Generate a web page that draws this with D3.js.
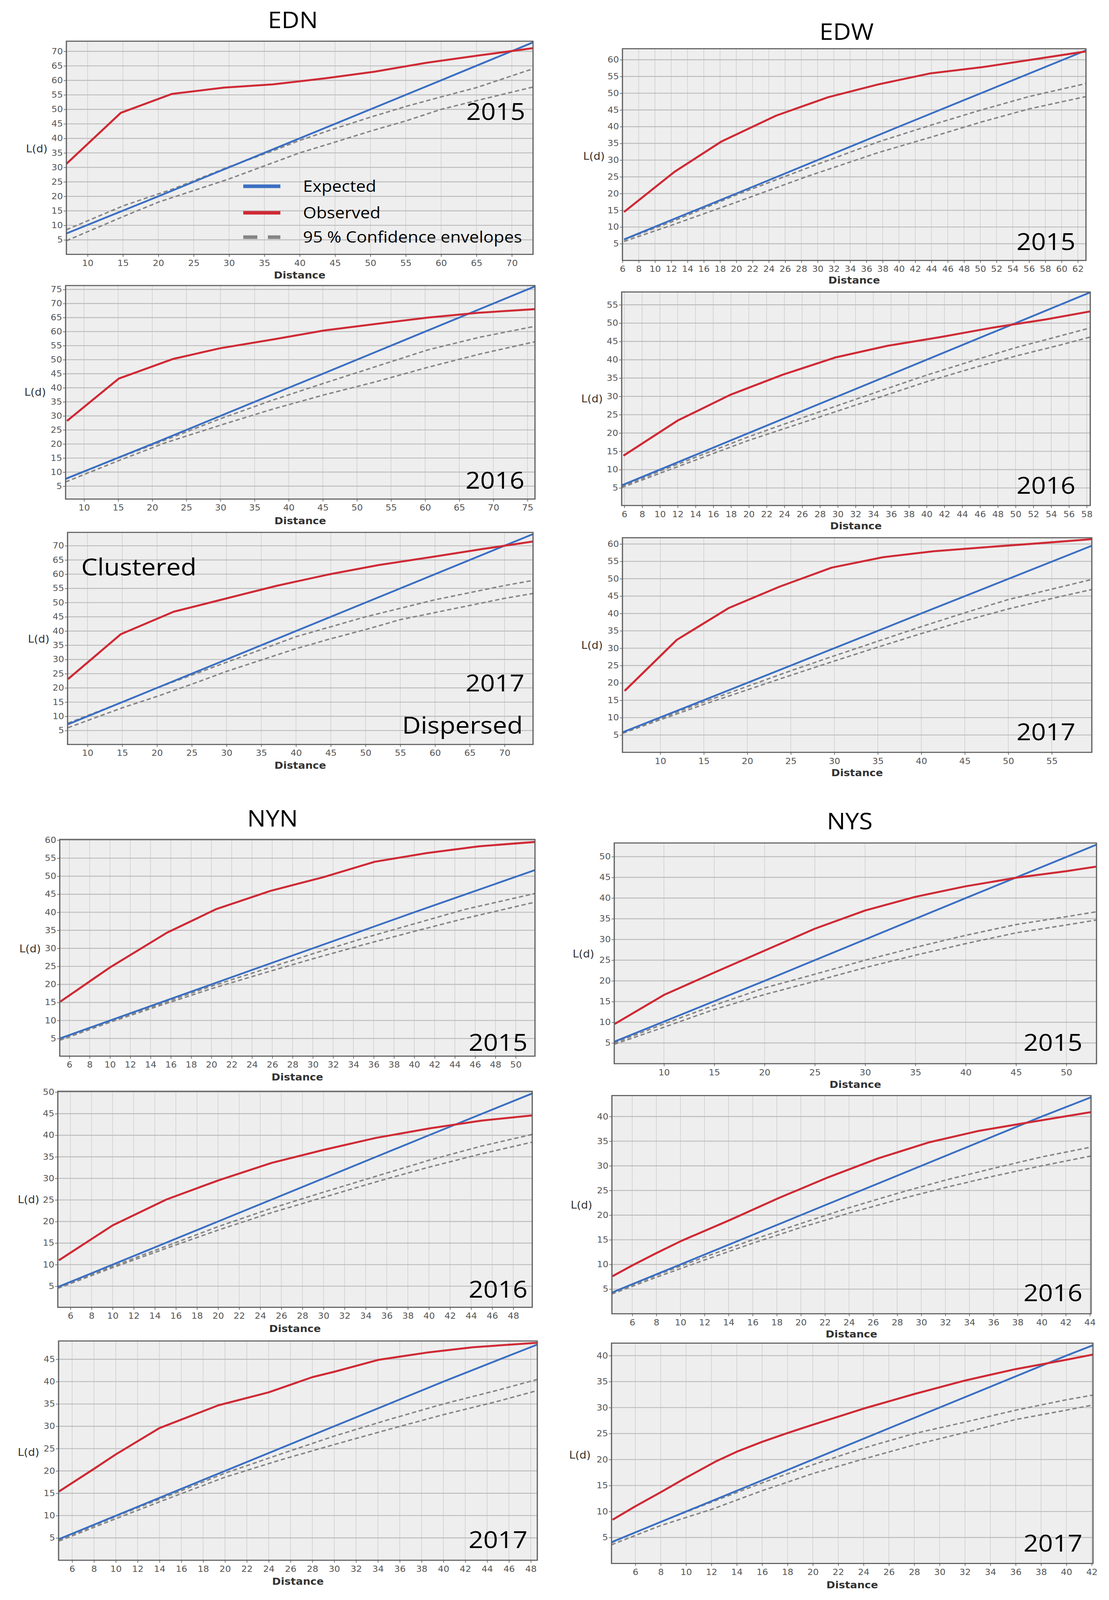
<!DOCTYPE html>
<html><head><meta charset="utf-8">
<script src="https://cdn.jsdelivr.net/npm/d3@7"></script>
<style>html,body{margin:0;padding:0;background:#fff;overflow:hidden}svg{display:block;width:100vw;height:100vh}</style>
</head><body>
<script>
// ---------- DATA ----------
const EDN2015_observed = [[7,31.2],[14.7,48.8],[21.9,55.3],[29.3,57.5],[36.2,58.6],[43.6,60.7],[50.6,63.0],[58,66.1],[65.4,68.6],[73,71.1]];
const EDN2015_expected = [[7,7.2],[20,20],[40,40],[60,60],[73,73.1]];
const EDN2015_upper = [[7,8.5],[15,16.7],[22,22.5],[30,30.2],[36,35.5],[40,39.3],[45,43.4],[50,47.3],[55,51],[60,54.3],[65,57.5],[73,64]];
const EDN2015_lower = [[7,4.7],[15,13],[20,18],[25,22],[30,26],[35,30.5],[40,35],[45,38.7],[50,42.5],[55,46],[60,50],[65,53],[73,57.7]];

const EDN2016_observed = [[7.5,28.2],[15.1,43.3],[23.1,50.3],[30,54.1],[37.7,57.2],[45.2,60.4],[52.7,62.7],[60.4,65],[67.8,66.7],[76.1,68]];
const EDN2016_expected = [[7.3,7.6],[20,20],[40,40],[60,60],[76.1,76.1]];
const EDN2016_upper = [[7.3,7.5],[15,15],[22,21.5],[30,29],[37.5,35.5],[45,41.5],[52.7,47.5],[60.4,53.5],[68,58],[76.1,61.9]];
const EDN2016_lower = [[7.3,6.5],[15.1,14.1],[22,20.5],[30,26.7],[37.5,32.3],[45.2,37.5],[52.7,42.1],[60.4,47.3],[68,52],[76.1,56.4]];

const EDN2017_observed = [[7.2,23.1],[14.8,38.9],[22.4,46.8],[29.7,51.3],[37.2,55.9],[44.5,59.8],[51.9,63.2],[59.4,66],[67,68.9],[74.1,71.5]];
const EDN2017_expected = [[7.2,7.2],[20,20],[40,40],[60,60],[74.1,74.1]];
const EDN2017_upper = [[7.2,7.6],[15,15],[20,20],[25,24.5],[30,29],[35,33.5],[40,38],[45,41.5],[50,45],[55,48],[60,51],[65,53.5],[70,56],[74.1,57.8]];
const EDN2017_lower = [[7.2,6],[15,13],[20,17],[25,21.3],[30,25.8],[35,29.8],[40,33.8],[45,37.3],[50,40.5],[55,44],[60,46.5],[65,49],[70,51.5],[74.1,53.2]];

const EDW2015_observed = [[6.2,14.5],[12.4,26.5],[18.2,35.6],[24.9,43.3],[31.3,48.8],[37.4,52.6],[43.8,55.9],[50.3,57.8],[56.8,60.2],[63,62.5]];
const EDW2015_expected = [[6.2,6.3],[20,20],[40,40],[63,62.8]];
const EDW2015_upper = [[6.2,6.2],[12,11.5],[20.1,19.7],[28.8,27.7],[37.4,35.4],[44,40.5],[50,44.9],[56,49],[63,52.9]];
const EDW2015_lower = [[6.2,5.7],[12,10.5],[20.1,17.5],[28.8,25.2],[37.4,32.2],[44,36.9],[50,41.3],[56,45.3],[63,49]];

const EDW2016_observed = [[5.9,13.8],[12,23.4],[17.9,30.4],[23.8,35.9],[29.7,40.6],[35.6,43.8],[41.6,46.2],[47.5,48.8],[53.4,51],[58.4,53.2]];
const EDW2016_expected = [[5.7,5.7],[20,20],[40,40],[58.4,58.4]];
const EDW2016_upper = [[5.7,5.4],[10,9.6],[15,14.3],[20,19],[25,23.3],[30,27.5],[35,31.7],[40,35.8],[45,39.6],[50,43.3],[55,46.5],[58.4,48.7]];
const EDW2016_lower = [[5.7,5.1],[10,9],[15,13.5],[20,18],[25,22],[30,26],[35,30],[40,34],[45,37.6],[50,41],[55,44],[58.4,46.2]];

const EDW2017_observed = [[5.9,17.7],[11.9,32.4],[17.9,41.6],[23.7,47.7],[29.7,53.2],[35.6,56.2],[41.4,57.9],[47.5,59.1],[53.5,60.2],[59.6,61.4]];
const EDW2017_expected = [[5.7,5.8],[20,20],[40,40],[59.6,59.5]];
const EDW2017_upper = [[5.7,5.8],[10,9.8],[15,14.5],[20,19],[25,23.5],[30,27.8],[35,32],[40,36.2],[45,40.2],[50,44],[55,47],[59.6,49.8]];
const EDW2017_lower = [[5.7,5.5],[10,9.4],[15,13.8],[20,18],[25,22.2],[30,26.3],[35,30.3],[40,34.2],[45,37.9],[50,41.3],[55,44.3],[59.6,46.9]];

const NYN2015_observed = [[5.1,15.2],[10,24.7],[15.6,34.3],[20.5,40.9],[25.8,45.9],[31,49.7],[36.1,54],[41.2,56.4],[46.4,58.3],[51.9,59.5]];
const NYN2015_expected = [[5.05,5],[20,20],[40,40],[51.9,51.7]];
const NYN2015_upper = [[5.05,4.8],[10,9.8],[15,14.6],[20,19.5],[25,24],[30,28.5],[35,32.8],[40,36.8],[45,40.8],[51.9,45.2]];
const NYN2015_lower = [[5.05,4.5],[10,9.5],[15,14.2],[20,18.8],[25,23],[30,27.1],[35,31],[40,34.7],[45,38.3],[51.9,42.8]];

const NYN2016_observed = [[4.9,11],[10,19.1],[15.1,25.1],[20.1,29.6],[25.1,33.6],[30,36.6],[35,39.4],[40.1,41.6],[45,43.4],[49.8,44.6]];
const NYN2016_expected = [[4.8,4.8],[20,20],[40,40],[49.8,49.7]];
const NYN2016_upper = [[4.8,4.7],[10,9.6],[15,14.2],[20,18.8],[25,23],[30,26.8],[35,30.5],[40,34.2],[45,37.5],[49.8,40.2]];
const NYN2016_lower = [[4.8,4.5],[10,9.3],[15,13.7],[20,18],[25,22],[30,25.6],[35,29.2],[40,32.6],[45,35.7],[49.8,38.4]];

const NYN2017_observed = [[4.8,15.4],[7.9,20.3],[10,23.7],[14,29.6],[19.4,34.7],[24,37.6],[28,41],[30,42.2],[34.1,44.9],[38.5,46.5],[42.7,47.7],[48.6,48.7]];
const NYN2017_expected = [[4.76,4.7],[20,20],[40,40],[48.6,48.3]];
const NYN2017_upper = [[4.8,4.5],[10,9.8],[15,14.6],[20,19.5],[25,23.7],[30,27.8],[35,31.5],[40,35],[45,38.1],[48.6,40.5]];
const NYN2017_lower = [[4.8,4.3],[10,9.3],[15,14],[20,18.6],[25,22.4],[30,25.9],[35,29.3],[40,32.6],[45,35.6],[48.6,38]];

const NYS2015_observed = [[5.1,9.6],[10,16.6],[15,22],[20.1,27.4],[25,32.6],[30,37],[35,40.3],[39.9,42.8],[45,44.9],[50,46.5],[53,47.6]];
const NYS2015_expected = [[5.06,5.3],[20,20],[40,40],[53,52.9]];
const NYS2015_upper = [[5.06,5],[10,9.6],[15,14.1],[20,18.3],[25,21.6],[30,25],[35,28.1],[40,31],[45,33.6],[50,35.5],[53,36.7]];
const NYS2015_lower = [[5.06,4.7],[10,8.8],[15,13.1],[20,16.7],[25,19.9],[30,23.2],[35,26.2],[40,29],[45,31.6],[50,33.5],[53,34.7]];

const NYS2016_observed = [[4.35,7.6],[6,9.8],[8,12.3],[10.1,14.8],[14.1,19],[18.2,23.5],[22.3,27.7],[26.4,31.5],[30.7,34.8],[34.8,37.1],[38.9,38.8],[44.1,40.9]];
const NYS2016_expected = [[4.31,4.3],[20,20],[40,40],[44.1,43.9]];
const NYS2016_upper = [[4.3,4.2],[8,7.8],[12,11.5],[16,15],[20,18.3],[24,21.5],[28,24.4],[32,27.1],[36,29.5],[40,31.8],[44.1,33.8]];
const NYS2016_lower = [[4.3,4],[8,7.4],[12,10.9],[16,14.3],[20,17.5],[24,20.4],[28,23.1],[32,25.6],[36,27.9],[40,30],[44.1,32]];

const NYS2017_observed = [[4.2,8.4],[6,11],[8,13.7],[10,16.5],[12.4,19.7],[14,21.5],[16,23.4],[18,25.1],[20,26.7],[24,29.8],[28,32.6],[32,35.2],[36,37.4],[40,39.2],[42.1,40.2]];
const NYS2017_expected = [[4.12,4.1],[20,20],[40,40],[42.1,42]];
const NYS2017_upper = [[4.12,4],[8,8],[12,11.8],[16,15.5],[20,19],[24,22.2],[28,25],[32,27.2],[36,29.5],[40,31.5],[42.1,32.4]];
const NYS2017_lower = [[4.12,3.6],[8,7.3],[12,10.4],[16,14],[20,17.3],[24,20.1],[28,22.8],[32,25.2],[36,27.7],[40,29.5],[42.1,30.5]];

const regionTitles = ["EDN","EDW","NYN","NYS"];
const legendLabels = ["Expected","Observed","95 % Confidence envelopes"];
const yTickStep = 5;

// ---------- PANEL CONFIG (axis ranges + layout) ----------
const panels = [
 {year:"2015", obs:EDN2015_observed, exp:EDN2015_expected, up:EDN2015_upper, lo:EDN2015_lower, xd:[7,73], yd:[0,73.5], xs:5, rect:[170,1365,115,710], dist:767, ld:[94,415], yr:[1345,335]},
 {year:"2016", obs:EDN2016_observed, exp:EDN2016_expected, up:EDN2016_upper, lo:EDN2016_lower, xd:[7.3,76.1], yd:[0.4,76.4], xs:5, rect:[168,1370,797,1393], dist:1453, ld:[90,1095], yr:[1343,1364]},
 {year:"2017", obs:EDN2017_observed, exp:EDN2017_expected, up:EDN2017_upper, lo:EDN2017_lower, xd:[7.13,74.1], yd:[0.1,74.7], xs:5, rect:[173,1365,1486,2078], dist:2136, ld:[99,1784], yr:[1343,1930]},
 {year:"2015", obs:EDW2015_observed, exp:EDW2015_expected, up:EDW2015_upper, lo:EDW2015_lower, xd:[6,63], yd:[0,63.3], xs:2, rect:[1594,2781,136,727], dist:782, ld:[1521,436], yr:[2754,698]},
 {year:"2016", obs:EDW2016_observed, exp:EDW2016_expected, up:EDW2016_upper, lo:EDW2016_lower, xd:[5.7,58.4], yd:[0.2,58.5], xs:2, rect:[1592,2792,815,1411], dist:1467, ld:[1516,1113], yr:[2754,1378]},
 {year:"2017", obs:EDW2017_observed, exp:EDW2017_expected, up:EDW2017_upper, lo:EDW2017_lower, xd:[5.65,59.6], yd:[0,61.8], xs:5, rect:[1594,2796,1501,2100], dist:2156, ld:[1516,1801], yr:[2754,2066]},
 {year:"2015", obs:NYN2015_observed, exp:NYN2015_expected, up:NYN2015_upper, lo:NYN2015_lower, xd:[5.05,51.9], yd:[0.1,60.2], xs:2, rect:[153,1370,2343,2948], dist:3006, ld:[77,2648], yr:[1351,2933]},
 {year:"2016", obs:NYN2016_observed, exp:NYN2016_expected, up:NYN2016_upper, lo:NYN2016_lower, xd:[4.8,49.8], yd:[0.1,50.2], xs:2, rect:[148,1363,3046,3649], dist:3708, ld:[73,3348], yr:[1351,3622]},
 {year:"2017", obs:NYN2017_observed, exp:NYN2017_expected, up:NYN2017_upper, lo:NYN2017_lower, xd:[4.76,48.6], yd:[0,49.1], xs:2, rect:[150,1376,3743,4355], dist:4414, ld:[73,4054], yr:[1351,4321]},
 {year:"2015", obs:NYS2015_observed, exp:NYS2015_expected, up:NYS2015_upper, lo:NYS2015_lower, xd:[5.06,53], yd:[0,53.3], xs:5, rect:[1573,2808,2353,2969], dist:3027, ld:[1494,2662], yr:[2772,2933]},
 {year:"2016", obs:NYS2016_observed, exp:NYS2016_expected, up:NYS2016_upper, lo:NYS2016_lower, xd:[4.31,44.1], yd:[0,44.25], xs:2, rect:[1567,2794,3058,3667], dist:3723, ld:[1489,3363], yr:[2772,3632]},
 {year:"2017", obs:NYS2017_observed, exp:NYS2017_expected, up:NYS2017_upper, lo:NYS2017_lower, xd:[4.12,42.1], yd:[0,42.4], xs:2, rect:[1566,2799,3749,4364], dist:4423, ld:[1485,4061], yr:[2772,4331]}
];
const titlePos = [[750,56],[2168,88],[698,2284],[2176,2292]];

const CAL = "'Open Sans', Carlito, Lato, sans-serif";
const DJ = "'DejaVu Sans', Verdana, sans-serif";
const BLUE = "#3b6fc2", RED = "#cf2a35", GRAY = "#858585";

const svg = d3.select("body").append("svg")
  .attr("viewBox","0 0 2840 4466").attr("preserveAspectRatio","none")
  .style("background","#fff");

const defs = svg.append("defs");

panels.forEach((p,i) => {
  const [l,r,t,b] = p.rect;
  const x = d3.scaleLinear().domain(p.xd).range([l,r]);
  const y = d3.scaleLinear().domain(p.yd).range([b,t]);
  const g = svg.append("g");
  g.append("rect").attr("x",l).attr("y",t).attr("width",r-l).attr("height",b-t).attr("fill","#eeeeee");

  const xt = d3.range(Math.ceil(p.xd[0]/p.xs - 1e-9)*p.xs, p.xd[1]+1e-6, p.xs);
  const yt = d3.range(yTickStep, p.yd[1]+1e-6, yTickStep);

  g.append("g").selectAll("line").data(xt).join("line")
    .attr("x1",d=>x(d)).attr("x2",d=>x(d)).attr("y1",t).attr("y2",b)
    .attr("stroke","#d0d0d0").attr("stroke-width",1.6);
  g.append("g").selectAll("line").data(yt).join("line")
    .attr("x1",l).attr("x2",r).attr("y1",d=>y(d)).attr("y2",d=>y(d))
    .attr("stroke","#bcbcbc").attr("stroke-width",2.6);

  defs.append("clipPath").attr("id","clip"+i).append("rect")
    .attr("x",l).attr("y",t).attr("width",r-l).attr("height",b-t);
  const lg = g.append("g").attr("clip-path",`url(#clip${i})`);
  const line = d3.line().x(d=>x(d[0])).y(d=>y(d[1]));
  [p.up,p.lo].forEach(d =>
    lg.append("path").attr("d",line(d)).attr("fill","none").attr("stroke",GRAY)
      .attr("stroke-width",4).attr("stroke-dasharray","11,7"));
  lg.append("path").attr("d",line(p.exp)).attr("fill","none").attr("stroke",BLUE).attr("stroke-width",5);
  lg.append("path").attr("d",line(p.obs)).attr("fill","none").attr("stroke",RED).attr("stroke-width",5.5)
    .attr("stroke-linejoin","round");

  const ax = g.append("g").attr("transform",`translate(0,${b})`)
    .call(d3.axisBottom(x).tickValues(xt).tickSize(7).tickSizeOuter(0).tickPadding(9).tickFormat(d3.format("d")));
  const ay = g.append("g").attr("transform",`translate(${l},0)`)
    .call(d3.axisLeft(y).tickValues(yt).tickSize(7).tickSizeOuter(0).tickPadding(2).tickFormat(d3.format("d")));
  [ax,ay].forEach(a => {
    a.select(".domain").remove();
    a.selectAll("line").attr("stroke","#777").attr("stroke-width",2);
    a.selectAll("text").attr("font-family",DJ).attr("font-size",23).attr("fill","#555");
  });

  g.append("rect").attr("x",l).attr("y",t).attr("width",r-l).attr("height",b-t)
    .attr("fill","none").attr("stroke","#5c5c5c").attr("stroke-width",3);

  g.append("text").attr("x",(l+r)/2).attr("y",p.dist+10).attr("text-anchor","middle")
    .attr("font-family",DJ).attr("font-weight","bold").attr("font-size",27).attr("fill","#333").text("Distance");
  g.append("text").attr("x",p.ld[0]).attr("y",p.ld[1]+10).attr("text-anchor","middle")
    .attr("font-family",DJ).attr("font-size",28).attr("fill","#333").text("L(d)");
  g.append("text").attr("x",p.yr[0]).attr("y",p.yr[1]).attr("text-anchor","end")
    .attr("font-family",CAL).attr("font-size",66).attr("fill","#000").text(p.year);
});

regionTitles.forEach((t,i) => {
  svg.append("text").attr("x",titlePos[i][0]).attr("y",titlePos[i][1]+23).attr("text-anchor","middle")
    .attr("font-family",CAL).attr("font-size",63).attr("fill","#000").text(t);
});

// Legend (EDN 2015 panel)
const legY = [520,594,662];
const legColors = [BLUE,RED,GRAY];
legendLabels.forEach((lab,i) => {
  const ln = svg.append("line").attr("x1",623).attr("x2",718).attr("y1",legY[i]).attr("y2",legY[i])
    .attr("stroke",legColors[i]).attr("stroke-width",10);
  if (i===2) ln.attr("stroke-dasharray","36,27");
  svg.append("text").attr("x",776).attr("y",legY[i]+15).attr("font-family",CAL).attr("font-size",44)
    .attr("fill","#000").text(lab);
});

// Annotations (EDN 2017 panel)
svg.append("text").attr("x",208).attr("y",1606).attr("font-family",CAL).attr("font-size",66).text("Clustered");
svg.append("text").attr("x",1339).attr("y",2048).attr("text-anchor","end").attr("font-family",CAL).attr("font-size",66).text("Dispersed");
</script>
</body></html>
